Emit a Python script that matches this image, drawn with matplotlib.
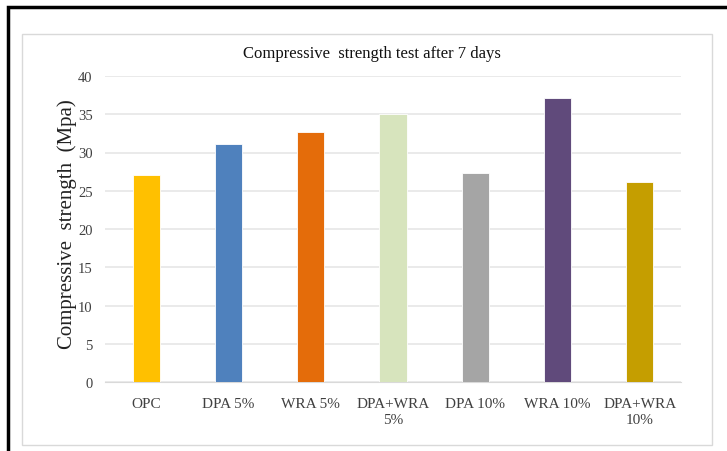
import matplotlib
matplotlib.use("Agg")
import matplotlib.pyplot as plt
from matplotlib.patches import Rectangle

categories = ["OPC", "DPA 5%", "WRA 5%", "DPA+WRA\n5%", "DPA 10%", "WRA 10%", "DPA+WRA\n10%"]
strength = [27.1, 31.1, 32.7, 35.0, 27.3, 37.1, 26.1]
bar_colors = ["#FFC000", "#4F81BD", "#E46C0A", "#D7E4BD", "#A5A5A5", "#604A7B", "#C59E00"]
y_ticks = [0, 5, 10, 15, 20, 25, 30, 35, 40]

plt.rcParams["font.family"] = ["Liberation Serif", "DejaVu Serif"]

W, H = 727, 452
fig = plt.figure(figsize=(W / 100, H / 100), dpi=100)

# outer black frame (cropped at right and bottom)
fig.patches.append(Rectangle((8 / W, -0.05), 1.2, (H - 8) / H + 0.05,
                             transform=fig.transFigure, fill=False,
                             edgecolor="black", linewidth=2.5))
# chart area border
fig.patches.append(Rectangle((22 / W, 1 - 446 / H), (712 - 22) / W, (446 - 35) / H,
                             transform=fig.transFigure, fill=False,
                             edgecolor="#D9D9D9", linewidth=1.0))

left, right, top, bottom = 105, 681, 77, 383
ax = fig.add_axes([left / W, 1 - bottom / H, (right - left) / W, (bottom - top) / H])

x = range(len(categories))
ax.bar(x, strength, width=0.33, color=bar_colors, edgecolor="white", linewidth=0.6, zorder=3)

ax.set_xlim(-0.5, len(categories) - 0.5)
ax.set_ylim(0, 40)
ax.set_yticks(y_ticks)
ax.set_xticks(list(x))
ax.set_xticklabels(categories, fontsize=11, color="#404040", linespacing=1.25)
ax.tick_params(axis="y", labelsize=10.5, colors="#404040", length=0, pad=9)
ax.tick_params(axis="x", length=0, pad=11)
ax.grid(axis="y", color="#E6E6E6", linewidth=1.2, zorder=0)
for s in ["top", "right", "left"]:
    ax.spines[s].set_visible(False)
ax.spines["bottom"].set_color("#D9D9D9")

ax.set_ylabel("Compressive  strength  (Mpa)", fontsize=15, color="#222222")
ax.yaxis.set_label_coords(-(left - 77) / (right - left), 0.52)
fig.text(372 / W, 1 - 54 / H, "Compressive  strength test after 7 days",
         ha="center", va="center", fontsize=12, color="#111111")

fig.savefig("out.png", dpi=100, facecolor="white")
